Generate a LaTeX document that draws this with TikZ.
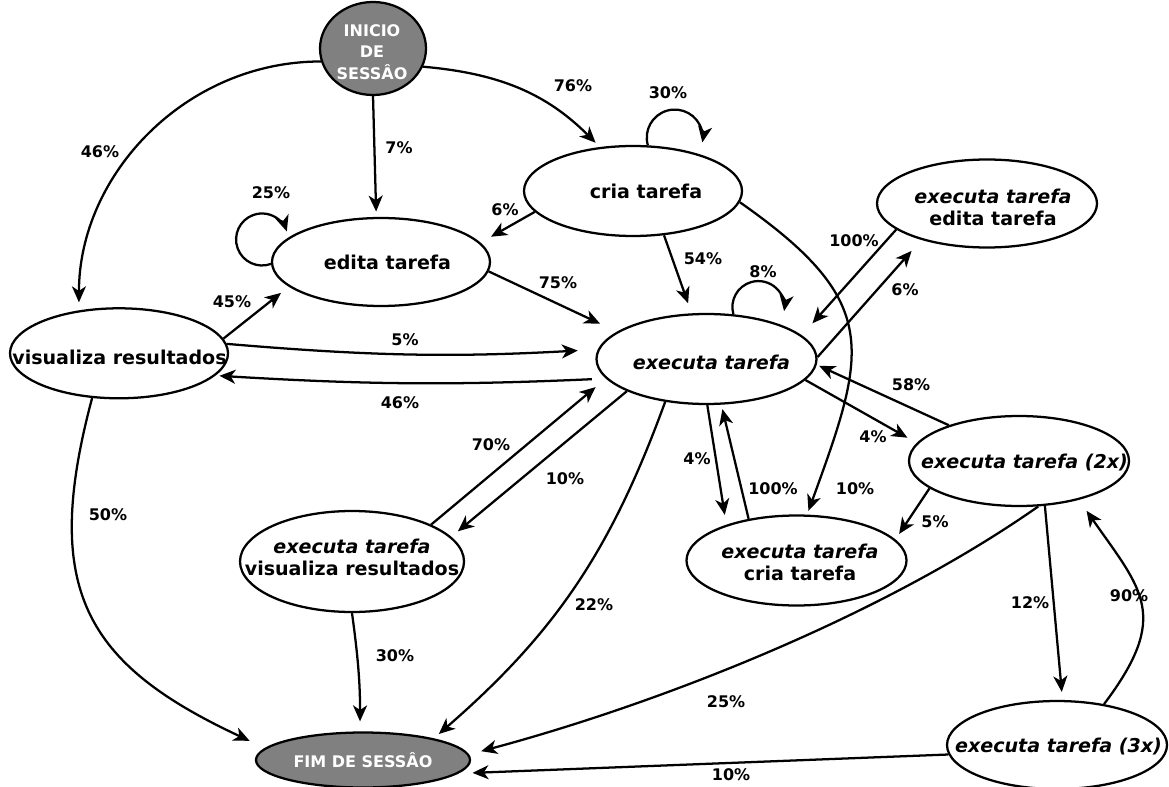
\documentclass[tikz,border=0pt]{standalone}
\usepackage{fontspec}
\setmainfont{DejaVu Sans}[BoldFont={DejaVu Sans Bold},ItalicFont={DejaVu Sans Oblique},BoldItalicFont={DejaVu Sans Bold Oblique}]
\usetikzlibrary{shapes.geometric,arrows.meta}
\definecolor{termgray}{RGB}{128,128,128}

\begin{document}
\begin{tikzpicture}[x=0.75pt,y=0.75pt,
  nodeell/.style 2 args={ellipse, draw, line width=1.7pt, fill=white, inner sep=0pt,
    minimum width=#1*1.5pt, minimum height=#2*1.5pt},
  txt/.style={font=\fontsize{14.3}{16.5}\selectfont\bfseries, align=center, inner sep=0pt},
  termtxt/.style={text=white, align=center, inner sep=0pt},
  pct/.style={font=\fontsize{12}{14}\selectfont\bfseries, inner sep=0pt},
  link/.style={line width=1.7pt, -{Stealth[length=12pt,width=10.5pt,inset=3.5pt]}},
]
\useasboundingbox (0,0) rectangle (1169,-787);

% states
\node[nodeell={53}{46.5}, fill=termgray] (I) at (373,-48.5) {};
\node[termtxt, font=\fontsize{12}{16}\selectfont\bfseries] (It) at (372,-52) {INICIO\\DE\\SESSÂO};
\node[nodeell={109}{45}] (C) at (633,-191) {};
\node[txt] (Ct) at (646,-191) {cria tarefa};
\node[nodeell={110}{44}] (EE) at (987,-203.5) {};
\node[txt] (EEt) at (993,-207.5) {\textit{executa tarefa}\\edita tarefa};
\node[nodeell={109}{44}] (ED) at (381,-262) {};
\node[txt] (EDt) at (387.5,-262) {edita tarefa};
\node[nodeell={109}{45}] (V) at (119,-353.3) {};
\node[txt] (Vt) at (119.5,-357.5) {visualiza resultados};
\node[nodeell={110}{45}] (E) at (706.5,-359) {};
\node[txt] (Et) at (711.5,-362) {\textit{executa tarefa}};
\node[nodeell={110}{45}] (E2) at (1019,-461) {};
\node[txt] (E2t) at (1024.5,-463) {\textit{executa tarefa (2x)}};
\node[nodeell={112}{50.5}] (EV) at (352,-561.5) {};
\node[txt] (EVt) at (352,-557) {\textit{executa tarefa}\\visualiza resultados};
\node[nodeell={110}{45}] (EC) at (796.5,-560.5) {};
\node[txt] (ECt) at (800,-562) {\textit{executa tarefa}\\cria tarefa};
\node[nodeell={107}{27.5}, fill=termgray] (F) at (363,-760) {};
\node[termtxt, font=\fontsize{12}{14}\selectfont\bfseries] (Ft) at (363,-760) {FIM DE SESSÂO};
\node[nodeell={110}{44}] (E3) at (1057,-745) {};
\node[txt] (E3t) at (1058.5,-747) {\textit{executa tarefa (3x)}};

% transitions
\draw[link, shorten >=6pt] (I.194) to[out=180,in=90] (V.133);
\draw[link, shorten >=4pt] (I.270) -- (ED.96);
\draw[link, shorten >=4.5pt] (I.340) to[out=-5,in=135] (C.127);
\draw[link] (C.72) arc[start angle=196,end angle=-10,radius=28];
\draw[link, shorten >=9pt] (C.192) -- (ED.11);
\draw[link, shorten >=8pt] (C.305) -- (E.108);
\draw[link, shorten >=3pt] (C.354) to[out=-35,in=70,looseness=1.4] (EC.77);
\draw[link] (ED.181) arc[start angle=290,end angle=18,radius=26];
\draw[link, shorten >=14pt] (ED.355) -- (E.163);
\draw[link, shorten >=7.5pt] (V.8) -- (ED.195);
\draw[link, shorten >=15pt] (V.5) to[bend right=4] (E.175);
\draw[link, shorten <=10.5pt, shorten >=3pt] (E.191.5) to[bend left=3] (V.347);
\draw[link, shorten >=12.6pt] (V.239) to[out=255,in=155,looseness=1.3] (F.173.5);
\draw[link] (E.59) arc[start angle=196,end angle=-9,radius=26];
\draw[link, shorten >=12pt] (EE.196) -- (E.14.5);
\draw[link, shorten >=11pt] (E.1) -- (EE.209.7);
\draw[link, shorten >=2pt] (E2.153) -- (E.357.5);
\draw[link, shorten >=8pt] (E.348) -- (E2.170);
\draw[link, shorten >=7.5pt] (E.271) -- (EC.153);
\draw[link, shorten >=3.4pt] (EC.139) -- (E.288);
\draw[link, shorten >=6.4pt] (E.202) -- (EV.14);
\draw[link, shorten >=10pt] (EV.25) -- (E.191);
\draw[link, shorten >=5pt] (E.226) to[out=250,in=41] (F.17.4);
\draw[link, shorten >=5pt] (E2.197) -- (EC.12.5);
\draw[link, shorten >=6pt] (E2.300) -- (E3.83);
\draw[link, shorten >=10pt] (E3.41.5) to[out=53,in=305,looseness=1.38] (E2.327.5);
\draw[link, shorten >=9.4pt] (E2.293) to[out=215,in=15,looseness=0.8] (F.3);
\draw[link, shorten >=10.5pt] (E3.185) -- (F.352.5);
\draw[link, shorten >=7.5pt] (EV.270) to[bend left=4] (F.96);

% transition probabilities
\node[pct] (p1) at (100,-152) {46\%};
\node[pct] (p2) at (399,-148) {7\%};
\node[pct] (p3) at (573,-86) {76\%};
\node[pct] (p4) at (668,-93) {30\%};
\node[pct] (p5) at (505,-210) {6\%};
\node[pct] (p6) at (703,-259) {54\%};
\node[pct] (p7) at (855,-489) {10\%};
\node[pct] (p8) at (271,-193) {25\%};
\node[pct] (p9) at (558,-283) {75\%};
\node[pct] (p10) at (232,-302) {45\%};
\node[pct] (p11) at (405,-340) {5\%};
\node[pct] (p12) at (400,-403) {46\%};
\node[pct] (p13) at (108,-515) {50\%};
\node[pct] (p14) at (763,-272) {8\%};
\node[pct] (p15) at (854,-241) {100\%};
\node[pct] (p16) at (905,-290) {6\%};
\node[pct] (p17) at (911,-385) {58\%};
\node[pct] (p18) at (873,-437) {4\%};
\node[pct] (p19) at (697,-459) {4\%};
\node[pct] (p20) at (773,-489) {100\%};
\node[pct] (p21) at (565,-479) {10\%};
\node[pct] (p22) at (491,-445) {70\%};
\node[pct] (p23) at (594,-605) {22\%};
\node[pct] (p24) at (935,-522) {5\%};
\node[pct] (p25) at (1030,-603) {12\%};
\node[pct] (p26) at (1129,-596) {90\%};
\node[pct] (p27) at (726,-702) {25\%};
\node[pct] (p28) at (731,-775) {10\%};
\node[pct] (p29) at (395,-656) {30\%};
\end{tikzpicture}
\end{document}
